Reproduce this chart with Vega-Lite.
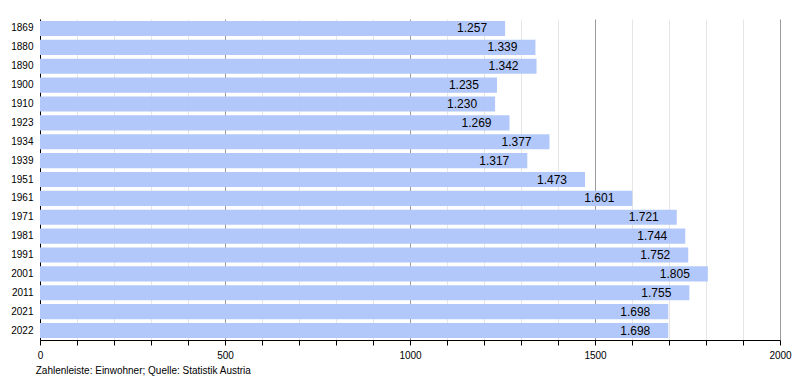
{
  "$schema": "https://vega.github.io/schema/vega-lite/v6.json",
  "autosize": {"type": "none"},
  "width": 740,
  "height": 321,
  "padding": {"left": 40, "top": 19, "right": 20, "bottom": 40},
  "background": "white",
  "config": {
    "font": "Liberation Sans",
    "view": {"stroke": null},
    "locale": {"number": {"decimal": ",", "thousands": ".", "grouping": [3], "currency": ["", " €"]}}
  },
  "title": {
    "text": "Zahlenleiste: Einwohner; Quelle: Statistik Austria",
    "orient": "bottom",
    "anchor": "start",
    "fontSize": 10,
    "fontWeight": "normal",
    "color": "#000",
    "offset": 6,
    "dx": 25
  },
  "data": {
    "values": [
      {"year": "1869", "pop": 1257},
      {"year": "1880", "pop": 1339},
      {"year": "1890", "pop": 1342},
      {"year": "1900", "pop": 1235},
      {"year": "1910", "pop": 1230},
      {"year": "1923", "pop": 1269},
      {"year": "1934", "pop": 1377},
      {"year": "1939", "pop": 1317},
      {"year": "1951", "pop": 1473},
      {"year": "1961", "pop": 1601},
      {"year": "1971", "pop": 1721},
      {"year": "1981", "pop": 1744},
      {"year": "1991", "pop": 1752},
      {"year": "2001", "pop": 1805},
      {"year": "2011", "pop": 1755},
      {"year": "2021", "pop": 1698},
      {"year": "2022", "pop": 1698}
    ]
  },
  "encoding": {
    "y": {
      "field": "year",
      "type": "ordinal",
      "sort": null,
      "scale": {"paddingInner": 0.2, "paddingOuter": 0.1},
      "axis": {
        "title": null,
        "ticks": false,
        "domainColor": "#000",
        "labelFontSize": 10,
        "labelColor": "#000",
        "labelPadding": 7
      }
    },
    "x": {
      "field": "pop",
      "type": "quantitative",
      "scale": {"domain": [0, 2000], "nice": false},
      "axis": {
        "title": null,
        "values": [0,100,200,300,400,500,600,700,800,900,1000,1100,1200,1300,1400,1500,1600,1700,1800,1900,2000],
        "format": "d",
        "labelExpr": "datum.value % 500 === 0 ? datum.label : ''",
        "labelOverlap": false,
        "labelFlush": false,
        "labelFontSize": 10,
        "labelColor": "#000",
        "labelPadding": 5,
        "tickSize": 5,
        "tickColor": "#000",
        "domainColor": "#000",
        "grid": true,
        "gridColor": {"condition": {"test": "datum.value % 500 === 0", "value": "#9a9a9a"}, "value": "#e6e6e6"},
        "zindex": 0
      }
    }
  },
  "layer": [
    {
      "mark": {"type": "bar", "color": "#b3c8fa"}
    },
    {
      "mark": {"type": "text", "align": "right", "dx": -18, "fontSize": 12, "color": "#000", "baseline": "middle"},
      "encoding": {
        "text": {"field": "pop", "type": "quantitative", "format": ",d"}
      }
    }
  ]
}
